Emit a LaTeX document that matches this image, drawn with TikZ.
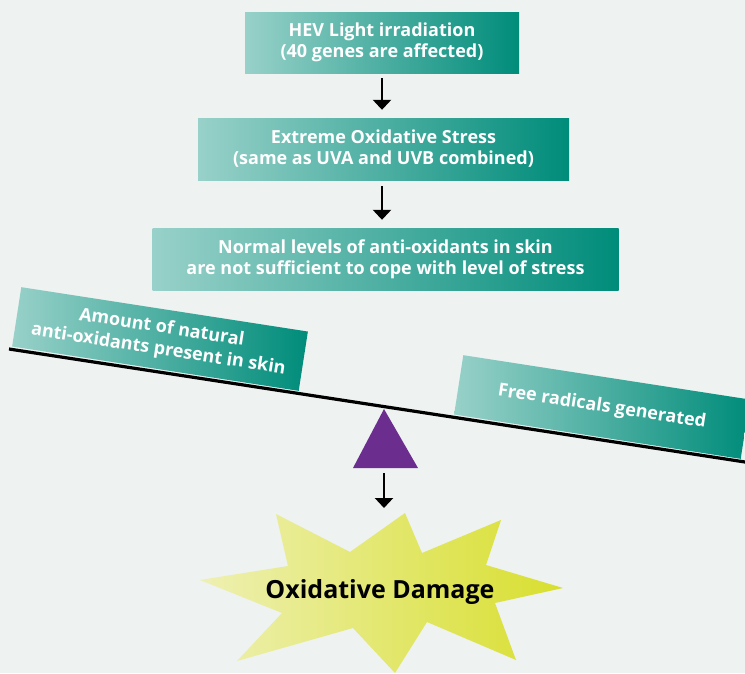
\documentclass[tikz,border=0pt]{standalone}
\usepackage{fontspec}
\setmainfont{Open Sans}
\usetikzlibrary{arrows.meta}
\definecolor{bgcol}{HTML}{EEF2F1}
\definecolor{tealL}{HTML}{98D1C9}
\definecolor{tealD}{HTML}{008C7A}
\definecolor{pivotcol}{HTML}{6B2D8E}
\definecolor{burstL}{HTML}{EEF0B2}
\definecolor{burstD}{HTML}{D8DF2E}
\tikzset{
  stepbox/.style={left color=tealL, right color=tealD, text=white,
    font=\bfseries\fontsize{18}{21}\selectfont, align=center, inner sep=0pt},
  downarrow/.style={-{Triangle[width=18pt,length=10pt]}, line width=2.5pt}
}
\begin{document}
\begin{tikzpicture}[x=1pt,y=1pt]
  % Background
  \fill[bgcol] (0,0) rectangle (745,-673);
  \useasboundingbox (0,0) rectangle (745,-673);
  \clip (0,0) rectangle (745,-673);

  % Draw the boxes
  \node[stepbox, minimum width=274, minimum height=61] (hev) at (382,-42.5)
    {HEV Light irradiation\\(40 genes are affected)};
  \node[stepbox, minimum width=371, minimum height=62] (stress) at (383.5,-149)
    {Extreme Oxidative Stress\\(same as UVA and UVB combined)};
  \node[stepbox, minimum width=466, minimum height=62] (levels) at (385.5,-259)
    {Normal levels of anti-oxidants in skin\\are not sufficient to cope with level of stress};

  % Draw the arrows
  \draw[downarrow, shorten <=5pt, shorten >=8pt] (hev.south -| 382,0) -- (stress.north -| 382,0);
  \draw[downarrow, shorten <=6pt, shorten >=8pt] (stress.south -| 382,0) -- (levels.north -| 382,0);

  % Draw the balance
  \draw[line width=3.2pt] (9,-349) coordinate (leverL) -- (745,-462) coordinate (leverR);
  \node[stepbox, minimum width=290, minimum height=60, rotate=-8.8] (natural) at (160,-339)
    {Amount of natural\\[1pt]anti-oxidants present in skin};
  \node[stepbox, minimum width=290, minimum height=60, rotate=-8.8] (radicals) at (602,-407)
    {Free radicals generated};
  \fill[pivotcol] (384,-409) coordinate (pivot) -- (418,-468) -- (353,-468) -- cycle;
  \coordinate (pivotbase) at (384,-468);

  % Draw the damage burst
  \shade[left color=burstL, right color=burstD]
    (276,-514) -- (350,-552) -- (405,-513) -- (422,-553) -- (501,-520)
    -- (486,-565) -- (563,-588) -- (495,-603) -- (516,-660) -- (427,-622)
    -- (395,-673) -- (353,-628) -- (237,-661) -- (282,-613) -- (200,-580)
    -- (288,-566) -- cycle;
  \coordinate (bursttop) at (384,-513);
  \node[font=\bfseries\fontsize{25}{29}\selectfont, anchor=base] (damage) at (380,-598)
    {Oxidative Damage};
  \draw[downarrow, shorten <=5pt, shorten >=5pt] (pivotbase) -- (bursttop);
\end{tikzpicture}
\end{document}
